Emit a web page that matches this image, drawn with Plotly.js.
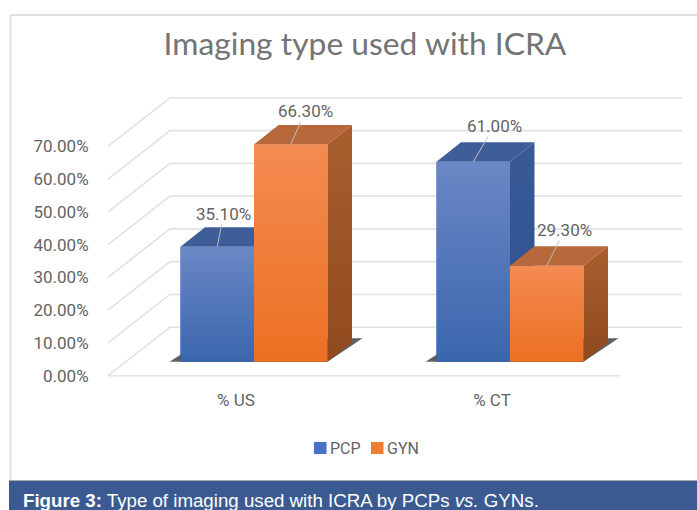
<!DOCTYPE html>
<html><head><meta charset="utf-8">
<script src="https://cdn.plot.ly/plotly-3.0.1.min.js"></script>
<style>html,body{margin:0;padding:0;background:#fff}</style></head>
<body><div id="chart" style="width:697px;height:510px"></div>
<script>
const categories = ['% US', '% CT'];
const seriesNames = ['PCP', 'GYN'];
const pcpValues = [35.1, 61.0];
const gynValues = [66.3, 29.3];
const yTicks = [0, 10, 20, 30, 40, 50, 60, 70];
const titleText = 'Imaging type used with ICRA';
const captionText = '<b>Figure 3:</b> Type of imaging used with ICRA by PCPs <i>vs.</i> GYNs.';

// scale: px per data unit
const W = 697, H = 510;
const PXX = 256, PXY = 3.277;
const L = 100, R = 15, T = 90, B = 128;
const X0PX = 108, Y0PX = 375.7;           // pixel of x=-0.5 edge and of y=0
const xr = [-0.5 + (L - X0PX) / PXX, -0.5 + (W - R - X0PX) / PXX];
const yr = [(Y0PX - (H - B)) / PXY, (Y0PX - T) / PXY];
const ux = p => p / PXX, uy = p => p / PXY;
const paperX = p => (p - L) / (W - L - R);
const paperY = p => 1 - (p - T) / (H - T - B);

const wallDX = ux(62), wallDY = uy(48.5);
const lift = uy(14), shift = ux(18);
const depthX = ux(24.5), depthY = uy(19.5);
const barW = ux(73.5);
const textFont = {family: 'Roboto', size: 17, color: '#636363'};

const grad = (c0, c1) => ({type: 'vertical', colorscale: [[0, c0], [1, c1]]});
const poly = (xs, ys, fg) => ({
  type: 'scatter', mode: 'lines', x: xs.concat(xs[0]), y: ys.concat(ys[0]),
  fill: 'toself', fillgradient: fg, line: {width: 0}, showlegend: false, hoverinfo: 'skip'
});
const flat = (xs, ys, c) => ({
  type: 'scatter', mode: 'lines', x: xs.concat(xs[0]), y: ys.concat(ys[0]),
  fill: 'toself', fillcolor: c, line: {width: 0}, showlegend: false, hoverinfo: 'skip'
});

const styles = [
  {front: ['#3a66ae', '#6b87c5'], side: ['#2b4f8f', '#3a5a97'], top: '#3f5d98', solid: '#4472c4'},
  {front: ['#ec7021', '#f48b52'], side: ['#8f4a1e', '#aa5e2e'], top: '#b8693b', solid: '#ed7d31'}
];
const allValues = [pcpValues, gynValues];

const traces = [];
// real bars (value on the axis, raised onto the 3-D floor)
allValues.forEach((vals, s) => traces.push({
  type: 'bar', name: seriesNames[s],
  x: categories.map((_, i) => i + shift), y: vals, base: vals.map(() => lift),
  width: barW, offset: s === 0 ? -barW : 0, showlegend: false,
  marker: {color: styles[s].solid, line: {width: 0}}, hovertemplate: '%{y:.2f}%<extra>' + seriesNames[s] + '</extra>'
}));

// floor shadows
categories.forEach((_, i) => {
  const c = i + shift;
  traces.push(flat(
    [c - barW - ux(11), c + barW, c + barW + ux(35), c + barW + ux(24), c - barW + ux(24), c - barW],
    [lift, lift, lift + uy(23.5), lift + uy(23.5), lift + uy(23.5), lift + uy(7)],
    'rgba(55,55,55,0.8)'));
});
// 3-D faces
categories.forEach((_, i) => {
  const c = i + shift;
  allValues.forEach((vals, s) => {
    const a = c + (s === 0 ? -barW : 0), b = a + barW, top = lift + vals[i], st = styles[s];
    traces.push(poly([b, b + depthX, b + depthX, b], [lift, lift + depthY, top + depthY, top], grad(st.side[0], st.side[1])));
    traces.push(flat([a, b, b + depthX, a + depthX], [top, top, top + depthY, top + depthY], st.top));
    traces.push(poly([a, b, b, a], [lift, lift, top, top], grad(st.front[0], st.front[1])));
  });
});

// wall and floor grid lines, below the bars
const shapes = [];
const gridLine = {color: '#e2e2e2', width: 1.6};
yTicks.forEach(v => {
  const endFront = -0.5, bx = endFront + wallDX;
  let path = `M ${endFront} ${v} L ${bx} ${v + wallDY} L ${xr[1]} ${v + wallDY}`;
  if (v === 0) path += ` M ${endFront} 0 L 1.5 0`;
  shapes.push({type: 'path', xref: 'x', yref: 'y', layer: 'below', path, line: gridLine});
});
// page furniture
const paperLine = (x0, y0, x1, y1, c, w) => ({type: 'line', xref: 'paper', yref: 'paper', layer: 'below',
  x0: paperX(x0), x1: paperX(x1), y0: paperY(y0), y1: paperY(y1), line: {color: c, width: w}});
shapes.push(paperLine(10.5, 15, 697, 15, '#e0e0e0', 2));
shapes.push(paperLine(10.5, 15, 10.5, 481, '#e0e0e0', 2));
shapes.push({type: 'rect', xref: 'paper', yref: 'paper', layer: 'above', x0: paperX(9), x1: paperX(697),
  y0: paperY(481), y1: paperY(510), fillcolor: '#3c5a92', line: {width: 0}});
shapes.push({type: 'line', xref: 'paper', yref: 'paper', layer: 'above', x0: paperX(9), x1: paperX(697),
  y0: paperY(480.5), y1: paperY(480.5), line: {color: '#a9a9a9', width: 1}});

// legend keys
const legendKeys = [314, 371], legendTexts = [330, 387];
seriesNames.forEach((n, s) => {
  shapes.push({type: 'rect', xref: 'paper', yref: 'paper', layer: 'above',
    x0: paperX(legendKeys[s]), x1: paperX(legendKeys[s] + 12.5), y0: paperY(442), y1: paperY(454),
    fillcolor: styles[s].solid, line: {width: 0}});
});

const labelOffsets = [[[6.5, -33], [21, -35.5]], [[14.5, -33], [18, -35.5]]];
const annotations = [];
allValues.forEach((vals, s) => vals.forEach((v, i) => {
  const c = i + shift, a = c + (s === 0 ? -barW : 0);
  const o = labelOffsets[s][i];
  annotations.push({
    x: a + barW / 2, y: lift + v, xref: 'x', yref: 'y',
    text: v.toFixed(2) + '%', showarrow: true, arrowhead: 0, arrowwidth: 1, arrowcolor: '#bdbdbd',
    ax: o[0], ay: o[1], font: textFont, borderpad: 0
  });
}));
seriesNames.forEach((n, s) => annotations.push({
  xref: 'paper', yref: 'paper', x: paperX(legendTexts[s] - 1), y: paperY(448), xanchor: 'left', yanchor: 'middle',
  text: n, showarrow: false, font: {family: 'Roboto', size: 16, color: '#636363'}, borderpad: 0
}));
annotations.push({xref: 'paper', yref: 'paper', x: paperX(21), y: paperY(500), xanchor: 'left', yanchor: 'middle',
  text: captionText, showarrow: false, font: {family: 'Liberation Sans', size: 18.7, color: '#ffffff'}});

const layout = {
  width: W, height: H, margin: {l: L, r: R, t: T, b: B, pad: 0},
  paper_bgcolor: '#ffffff', plot_bgcolor: 'rgba(0,0,0,0)',
  barmode: 'overlay', showlegend: false,
  title: {text: titleText, font: {family: 'Lato', size: 31.8, color: '#747474'},
          xref: 'container', yref: 'container', x: 365 / W, y: 1 - 44 / H, xanchor: 'center', yanchor: 'middle'},
  xaxis: {range: xr, tickmode: 'array', tickvals: categories.map((_, i) => i), ticktext: categories,
          showgrid: false, zeroline: false, showline: false, ticks: 'outside', ticklen: 3, tickcolor: 'rgba(0,0,0,0)',
          tickfont: textFont, fixedrange: true},
  yaxis: {range: yr, tickmode: 'array', tickvals: yTicks, ticktext: yTicks.map(v => v.toFixed(2) + '%'),
          showgrid: false, zeroline: false, showline: false, ticks: 'outside', ticklen: 7, tickcolor: 'rgba(0,0,0,0)',
          tickfont: textFont, fixedrange: true},
  shapes, annotations
};
Plotly.newPlot('chart', traces, layout, {displayModeBar: false, responsive: false});
</script></body></html>
